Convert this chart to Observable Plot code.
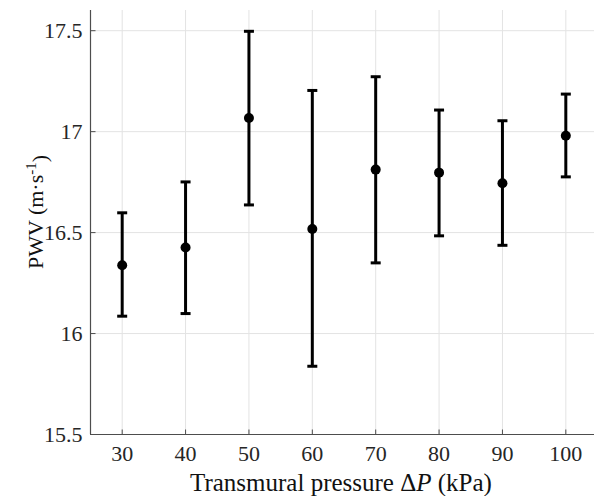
<!DOCTYPE html>
<html><head><meta charset="utf-8">
<script src="https://cdn.jsdelivr.net/npm/d3@7"></script>
<script src="https://cdn.jsdelivr.net/npm/@observablehq/plot@0.6"></script>
<style>body{margin:0;background:#fff}</style>
</head><body><div id="chart"></div>
<script>
const pressure = [30, 40, 50, 60, 70, 80, 90, 100];
const pwv      = [16.338, 16.426, 17.068, 16.518, 16.812, 16.797, 16.744, 16.980];
const lower    = [16.086, 16.099, 16.637, 15.838, 16.350, 16.484, 16.437, 16.776];
const upper    = [16.598, 16.751, 17.497, 17.204, 17.272, 17.107, 17.054, 17.186];
const xTicks = [30, 40, 50, 60, 70, 80, 90, 100];
const yTicks = [15.5, 16, 16.5, 17, 17.5];
const yTickLabels = ["15.5", "16", "16.5", "17", "17.5"];
const xLabelText = ["Transmural pressure \u0394", "P", " (kPa)"];
const yLabelText = ["PWV (m\u00B7s", "-1", ")"];

const rows = pressure.map((p, i) => ({p, v: pwv[i], lo: lower[i], hi: upper[i]}));

const hCap = {draw(ctx, size) { const w = Math.sqrt(size / Math.PI); ctx.moveTo(-w, 0); ctx.lineTo(w, 0); }};
const tickUp = {draw(ctx, size) { const l = Math.sqrt(size / Math.PI); ctx.moveTo(0, 0); ctx.lineTo(0, -l); }};
const tickRight = {draw(ctx, size) { const l = Math.sqrt(size / Math.PI); ctx.moveTo(0, 0); ctx.lineTo(l, 0); }};

const serif = "Liberation Serif, DejaVu Serif, serif";
const axisColor = "#4d4d4d";
const chart = Plot.plot({
  width: 594, height: 496,
  marginLeft: 90, marginTop: 10, marginBottom: 62, marginRight: 0,
  x: {domain: [25, 105], range: [90, 597]},
  y: {domain: [15.5, 17.6]},
  style: {background: "#fff"},
  marks: [
    Plot.gridX(xTicks, {stroke: "#e3e3e3", strokeOpacity: 1}),
    Plot.gridY(yTicks.slice(1), {stroke: "#e3e3e3", strokeOpacity: 1}),
    Plot.ruleY([15.5], {stroke: axisColor, strokeWidth: 1.2}),
    Plot.ruleX([25], {stroke: axisColor, strokeWidth: 1.2}),
    Plot.dot(xTicks, {x: d => d, frameAnchor: "bottom", symbol: tickUp, r: 5, stroke: axisColor, fill: "none", strokeWidth: 1}),
    Plot.dot(yTicks, {y: d => d, frameAnchor: "left", symbol: tickRight, r: 5, stroke: axisColor, fill: "none", strokeWidth: 1}),
    Plot.axisX(xTicks, {tickSize: 0, tickPadding: 11, label: null, tickFormat: d => String(d), fontFamily: serif, fontSize: 22, fill: "#262626"}),
    Plot.axisY(yTicks, {tickSize: 0, tickPadding: 8, label: null, tickFormat: d => yTickLabels[yTicks.indexOf(d)], fontFamily: serif, fontSize: 22, fill: "#262626"}),
    Plot.ruleX(rows, {x: "p", y1: "lo", y2: "hi", stroke: "black", strokeWidth: 3}),
    Plot.dot(rows, {x: "p", y: "lo", symbol: hCap, r: 5, stroke: "black", strokeWidth: 3, fill: "none"}),
    Plot.dot(rows, {x: "p", y: "hi", symbol: hCap, r: 5, stroke: "black", strokeWidth: 3, fill: "none"}),
    Plot.dot(rows, {x: "p", y: "v", r: 5, fill: "black", stroke: "none"})
  ]
});
document.getElementById("chart").appendChild(chart);

const svg = d3.select(chart);
const xl = svg.append("text")
  .attr("x", 341).attr("y", 491)
  .attr("text-anchor", "middle")
  .attr("fill", "#111")
  .attr("font-family", serif)
  .attr("font-size", 25);
xl.append("tspan").text(xLabelText[0]);
xl.append("tspan").attr("font-style", "italic").text(xLabelText[1]);
xl.append("tspan").text(xLabelText[2]);

const yl = svg.append("text")
  .attr("transform", "translate(43,212) rotate(-90)")
  .attr("text-anchor", "middle")
  .attr("fill", "#111")
  .attr("font-family", serif)
  .attr("font-size", 22);
yl.append("tspan").text(yLabelText[0]);
yl.append("tspan").attr("dy", "-0.5em").attr("font-size", 15).text(yLabelText[1]);
yl.append("tspan").attr("dy", "0.5em").text(yLabelText[2]);
</script>
</body></html>
